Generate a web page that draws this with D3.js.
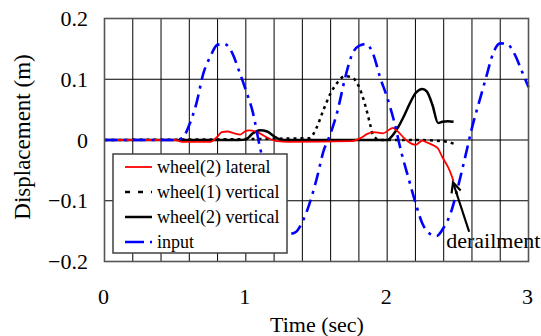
<!DOCTYPE html>
<html>
<head>
<meta charset="utf-8">
<script src="https://cdn.jsdelivr.net/npm/d3@7"></script>
<style>
  html, body { margin: 0; padding: 0; background: #fff; }
  svg { display: block; }
  svg text { font-family: "Liberation Serif", "Times New Roman", Times, "DejaVu Serif", serif; }
</style>
</head>
<body>
<div id="chart"></div>
<script>
// axis ticks
const xTicks = [0, 1, 2, 3];
const yTicks = [0.2, 0.1, 0, -0.1, -0.2];
const xGrid = [0.2, 0.4, 0.6, 0.8, 1.0, 1.2, 1.4, 1.6, 1.8, 2.0, 2.2, 2.4, 2.6, 2.8];
const yGrid = [0.1, 0, -0.1];

// input (blue dash-dot)
const inputTime = [0, 0.5, 0.55, 0.6, 0.65, 0.7, 0.75, 0.8, 0.85, 0.9, 0.95, 1.0, 1.05, 1.1, 1.15, 1.2, 1.25, 1.3, 1.35, 1.4, 1.45, 1.5, 1.55, 1.6, 1.65, 1.7, 1.75, 1.8, 1.85, 1.9, 1.95, 2.0, 2.05, 2.1, 2.15, 2.2, 2.25, 2.3, 2.35, 2.4, 2.45, 2.5, 2.55, 2.6, 2.65, 2.7, 2.75, 2.8, 2.85, 2.9, 2.95, 3.0];
const inputDisp = [0, 0, 0.003, 0.025, 0.06, 0.11, 0.138, 0.157, 0.158, 0.145, 0.115, 0.082, 0.045, -0.012, -0.06, -0.1, -0.135, -0.155, -0.152, -0.135, -0.105, -0.065, -0.018, 0.011, 0.049, 0.1, 0.14, 0.155, 0.158, 0.142, 0.103, 0.07, 0.03, -0.02, -0.062, -0.103, -0.138, -0.154, -0.158, -0.144, -0.12, -0.078, -0.03, 0.02, 0.062, 0.103, 0.143, 0.159, 0.158, 0.142, 0.115, 0.087];

// wheel(1) vertical (black dotted)
const w1VertTime = [0, 1.45, 1.5, 1.55, 1.6, 1.65, 1.7, 1.75, 1.8, 1.83, 1.86, 1.88, 1.9, 1.95, 2.2, 2.4, 2.47];
const w1VertDisp = [0, 0.003, 0.02, 0.05, 0.077, 0.095, 0.105, 0.103, 0.088, 0.069, 0.044, 0.025, 0.008, 0, 0, -0.002, -0.006];

// wheel(2) vertical (black solid)
const w2VertTime = [0, 0.95, 1.0, 1.05, 1.1, 1.15, 1.2, 1.24, 1.3, 2.0, 2.04, 2.08, 2.12, 2.16, 2.2, 2.25, 2.28, 2.32, 2.36, 2.39, 2.43, 2.47];
const w2VertDisp = [0, 0, 0.001, 0.011, 0.016, 0.014, 0.006, 0.001, 0, 0, 0.008, 0.022, 0.04, 0.06, 0.077, 0.084, 0.08, 0.058, 0.028, 0.03, 0.031, 0.03];

// wheel(2) lateral (red)
const w2LatTime = [0, 0.5, 0.55, 0.75, 0.8, 0.83, 0.87, 0.92, 0.96, 1.0, 1.02, 1.08, 1.15, 1.22, 1.3, 1.75, 1.81, 1.86, 1.9, 1.97, 2.04, 2.08, 2.12, 2.15, 2.2, 2.25, 2.28, 2.32, 2.36, 2.39, 2.42, 2.44, 2.47];
const w2LatDisp = [0, 0, -0.003, -0.003, 0.006, 0.013, 0.014, 0.011, 0.009, 0.015, 0.016, 0.013, 0.004, -0.002, -0.003, -0.002, 0.003, 0.01, 0.013, 0.011, 0.02, 0.013, 0.003, -0.003, -0.008, -0.001, -0.004, -0.008, -0.014, -0.028, -0.04, -0.049, -0.068];

const legendLabels = ["wheel(2) lateral", "wheel(1) vertical", "wheel(2) vertical", "input"];

// annotation: arrow tip / tail and label, in data units
const arrowTip = [2.466, -0.07];
const arrowTail = [2.58, -0.151];
const noteAt = [2.418, -0.178];

const width = 541, height = 336;
const plot = { left: 104.5, right: 528.5, top: 18.5, bottom: 261.5 };
const serif = '"Liberation Serif", "Times New Roman", Times, "DejaVu Serif", serif';

const x = d3.scaleLinear().domain([0, 3]).range([plot.left, plot.right]);
const y = d3.scaleLinear().domain([-0.2, 0.2]).range([plot.bottom, plot.top]);

const svg = d3.select("#chart").append("svg")
  .attr("width", width)
  .attr("height", height)
  .attr("font-family", serif);

// grid
svg.append("g").selectAll("line")
  .data(xGrid)
  .enter().append("line")
  .attr("x1", d => x(d)).attr("x2", d => x(d))
  .attr("y1", plot.top).attr("y2", plot.bottom)
  .attr("stroke", "#000").attr("stroke-width", 1);

svg.append("g").selectAll("line")
  .data(yGrid)
  .enter().append("line")
  .attr("x1", plot.left).attr("x2", plot.right)
  .attr("y1", d => y(d)).attr("y2", d => y(d))
  .attr("stroke", "#000").attr("stroke-width", 1);

const line = d3.line()
  .x(d => x(d[0]))
  .y(d => y(d[1]))
  .curve(d3.curveMonotoneX);

const series = [
  { name: "wheel(2) lateral", t: w2LatTime, v: w2LatDisp, color: "#ff0000", w: 1.8, dash: null },
  { name: "wheel(1) vertical", t: w1VertTime, v: w1VertDisp, color: "#000", w: 2.5, dash: "3,4" },
  { name: "wheel(2) vertical", t: w2VertTime, v: w2VertDisp, color: "#000", w: 2.5, dash: null },
  { name: "input", t: inputTime, v: inputDisp, color: "#0000ff", w: 2.6, dash: "13,6,3,6" }
];

const drawOrder = [2, 1, 0, 3];
drawOrder.forEach(i => {
  const s = series[i];
  svg.append("path")
    .datum(d3.zip(s.t, s.v))
    .attr("fill", "none")
    .attr("stroke", s.color)
    .attr("stroke-width", s.w)
    .attr("stroke-dasharray", s.dash)
    .attr("stroke-linejoin", "round")
    .attr("d", line);
});

// legend
const lg = svg.append("g");
lg.append("rect")
  .attr("x", 113).attr("y", 154)
  .attr("width", 174).attr("height", 99)
  .attr("fill", "#fff")
  .attr("stroke", "#404040").attr("stroke-width", 1.5);

const rows = lg.selectAll("g.row")
  .data(series)
  .enter().append("g")
  .attr("class", "row")
  .attr("transform", (d, i) => `translate(0,${167 + i * 25})`);

rows.append("line")
  .attr("x1", 125).attr("x2", 152)
  .attr("stroke", d => d.color)
  .attr("stroke-width", d => d.w)
  .attr("stroke-dasharray", d => d.name === "input" ? "19,6,3,20" : (d.dash ? "5,8" : null));

rows.append("text")
  .attr("x", 157)
  .attr("dy", "0.33em")
  .attr("font-size", 18)
  .text((d, i) => legendLabels[i]);

// frame
svg.append("rect")
  .attr("x", plot.left).attr("y", plot.top)
  .attr("width", plot.right - plot.left)
  .attr("height", plot.bottom - plot.top)
  .attr("fill", "none")
  .attr("stroke", "#555").attr("stroke-width", 1.6);

// tick labels
svg.append("g").selectAll("text")
  .data(yTicks)
  .enter().append("text")
  .attr("x", 88)
  .attr("y", d => y(d))
  .attr("dy", "0.35em")
  .attr("text-anchor", "end")
  .attr("font-size", 22)
  .text(d => d3.format("")(d));

svg.append("g").selectAll("text")
  .data(xTicks)
  .enter().append("text")
  .attr("x", d => x(d) - 1)
  .attr("y", 296)
  .attr("dy", "0.35em")
  .attr("text-anchor", "middle")
  .attr("font-size", 22)
  .text(d => d);

// axis titles
svg.append("text")
  .attr("x", 317).attr("y", 324)
  .attr("dy", "0.35em")
  .attr("text-anchor", "middle")
  .attr("font-size", 22)
  .text("Time (sec)");

svg.append("text")
  .attr("transform", "translate(22,137) rotate(-90)")
  .attr("dy", "0.35em")
  .attr("text-anchor", "middle")
  .attr("font-size", 23)
  .text("Displacement (m)");

// derailment annotation
const tip = [x(arrowTip[0]), y(arrowTip[1])];
const tail = [x(arrowTail[0]), y(arrowTail[1])];
const ang = Math.atan2(tail[1] - tip[1], tail[0] - tip[0]);
const headLen = 11, spread = 0.45;

svg.append("line")
  .attr("x1", tail[0]).attr("y1", tail[1])
  .attr("x2", tip[0]).attr("y2", tip[1])
  .attr("stroke", "#000").attr("stroke-width", 2.2);

svg.append("path")
  .attr("d", d3.line()([
    [tip[0] + headLen * Math.cos(ang - spread), tip[1] + headLen * Math.sin(ang - spread)],
    tip,
    [tip[0] + headLen * Math.cos(ang + spread), tip[1] + headLen * Math.sin(ang + spread)]
  ]))
  .attr("fill", "none")
  .attr("stroke", "#000").attr("stroke-width", 2.2)
  .attr("stroke-linejoin", "miter");

svg.append("text")
  .attr("x", x(noteAt[0])).attr("y", y(noteAt[1]))
  .attr("font-size", 22)
  .text("derailment");
</script>
</body>
</html>
